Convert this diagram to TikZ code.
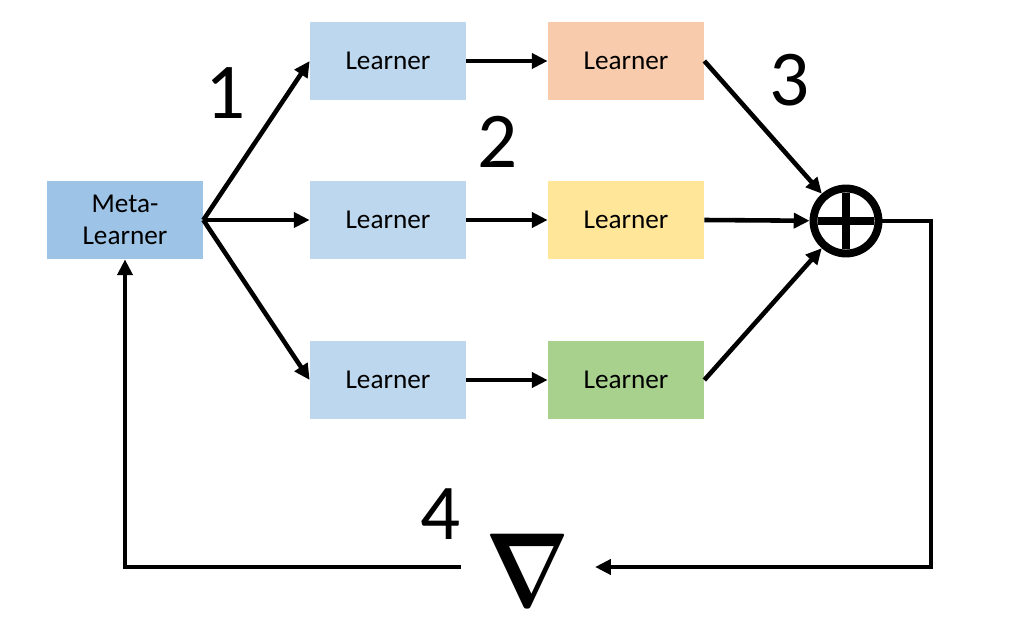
\documentclass[tikz,border=0pt]{standalone}
\usepackage{amsmath}
\usepackage{fontspec}
\setmainfont{Carlito}
\usepackage{tikz}
\usetikzlibrary{positioning, arrows.meta}

\definecolor{metablue}{RGB}{157,195,230}
\definecolor{learnblue}{RGB}{189,215,238}
\definecolor{lorange}{RGB}{248,203,173}
\definecolor{lyellow}{RGB}{255,230,153}
\definecolor{lgreen}{RGB}{169,209,142}

\begin{document}
\begin{tikzpicture}[
  x=0.02cm, y=-0.02cm,
  box/.style={minimum width=3.12cm, minimum height=1.56cm, inner sep=0pt,
    font=\fontsize{15.5}{18}\selectfont},
  num/.style={font=\fontsize{45}{45}\selectfont},
  arr/.style={line width=2.6pt, -{Triangle[length=9pt, width=8.5pt]}},
]
  \useasboundingbox (0,0) rectangle (1027,631);

  % Meta-learner and the learner columns
  \node[box, fill=metablue, align=center] (meta) at (125,220) {Meta-\\Learner};
  \foreach \r/\y in {a/61, b/220, c/380}
    \node[box, fill=learnblue] (l\r) at (388,\y) {Learner};
  \node[box, fill=lorange] (ka) at (626,61)  {Learner};
  \node[box, fill=lyellow] (kb) at (626,220) {Learner};
  \node[box, fill=lgreen]  (kc) at (626,380) {Learner};

  % Sum and gradient
  \node[circle, draw, line width=4.5pt, minimum size=1.3cm, inner sep=0pt] (sum) at (846,221) {};
  \draw[line width=4pt] (sum.center) +(-28,0) -- +(28,0);
  \draw[line width=4pt] (sum.center) +(0,-28) -- +(0,28);
  \node[inner sep=14pt] (grad) at (528,570)
    {\scalebox{5}[6]{$\boldsymbol{\nabla}$}};
  \coordinate (turn) at (931,221);

  % Arrows
  \foreach \r in {a,b,c} {
    \draw[arr] (meta.east) -- (l\r.west);
    \draw[arr] (l\r.east) -- (k\r.west);
    \draw[arr] (k\r.east) -- (sum);
  }
  \draw[arr] (sum.east) -- (turn) |- (grad.east |- turn.south |- 0,567);
  \draw[arr] (grad.west |- 0,567) -| (meta.south);

  % Step numbers
  \node[num] (n1) at (226,93)  {1};
  \node[num] (n2) at (498,142) {2};
  \node[num] (n3) at (790,80)  {3};
  \node[num] (n4) at (441,514) {4};
\end{tikzpicture}
\end{document}
